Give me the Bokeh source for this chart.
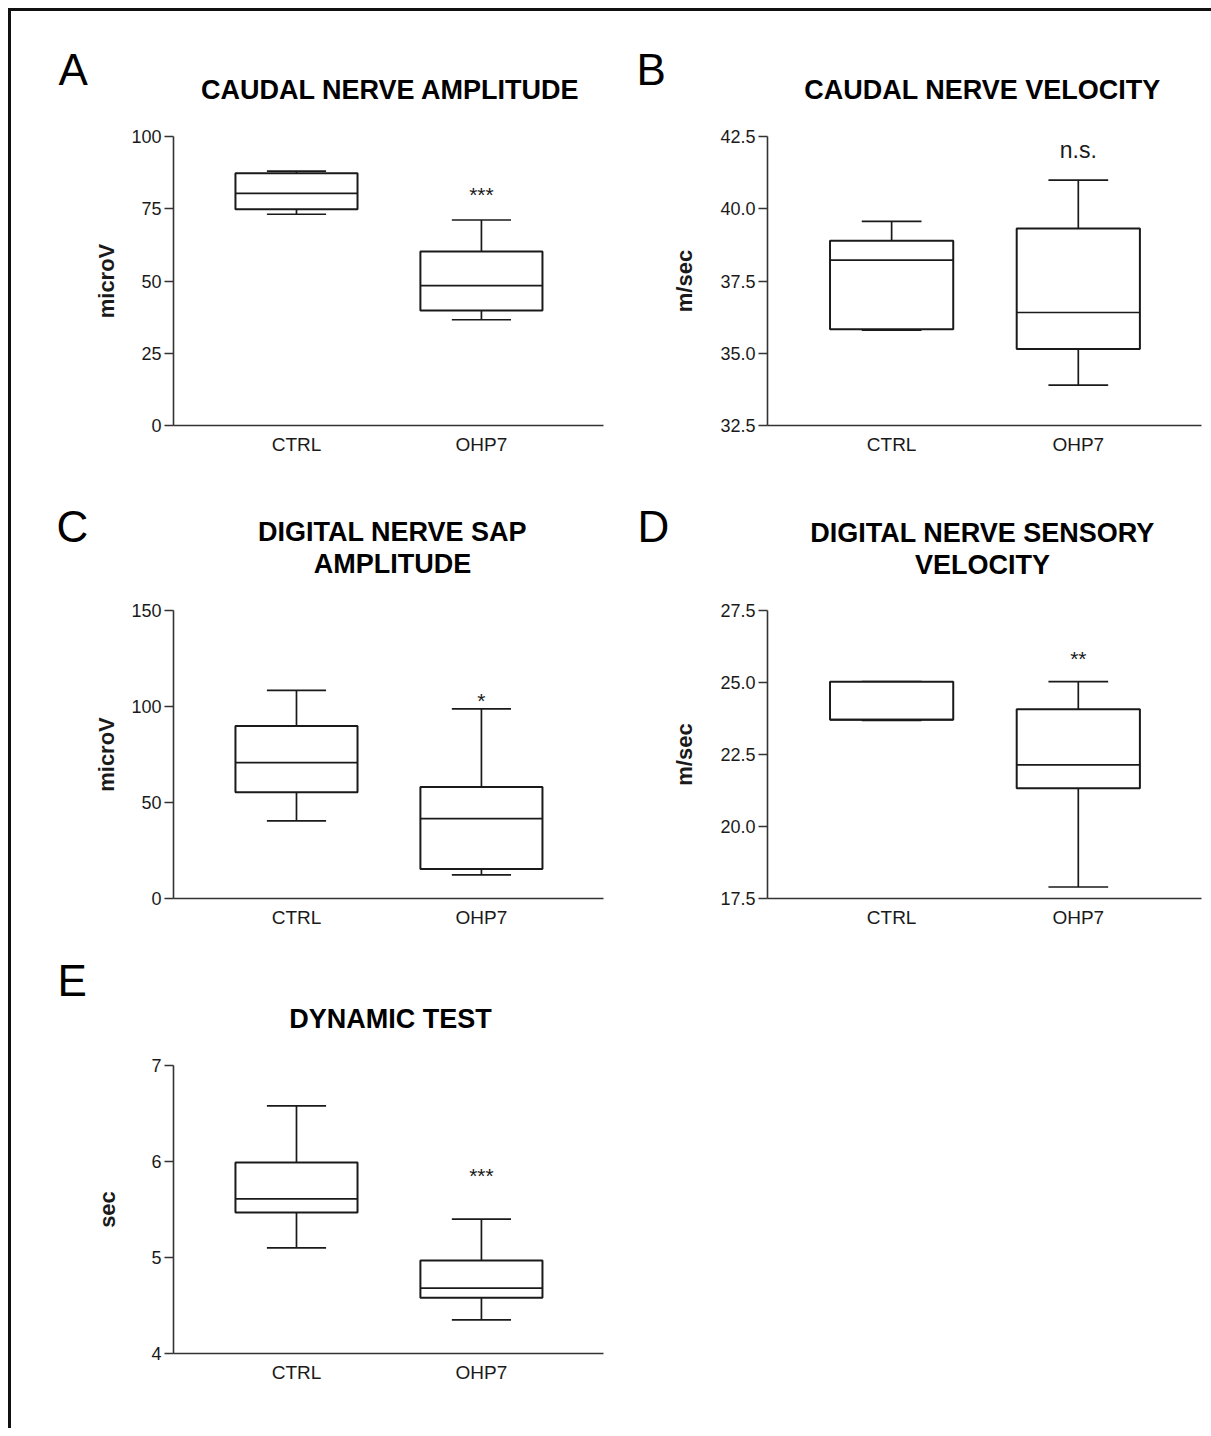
from bokeh.plotting import figure
from bokeh.models import Range1d, FixedTicker, NumeralTickFormatter, Spacer
from bokeh.layouts import column, row
from bokeh.core.properties import value
from bokeh.embed import file_html
from bokeh.resources import INLINE

FONT = "Liberation Sans"
FONT_V = value(FONT)
INK = "#1a1a1a"

categories = ["CTRL", "OHP7"]

# Panel A: caudal nerve amplitude (microV)
a_low = [73.1, 36.6]
a_q1 = [74.8, 39.8]
a_med = [80.3, 48.4]
a_q3 = [87.3, 60.2]
a_high = [88.0, 71.1]
a_ticks = [0, 25, 50, 75, 100]

# Panel B: caudal nerve velocity (m/sec)
b_low = [35.8, 33.9]
b_q1 = [35.83, 35.15]
b_med = [38.22, 36.41]
b_q3 = [38.89, 39.32]
b_high = [39.56, 40.99]
b_ticks = [32.5, 35.0, 37.5, 40.0, 42.5]

# Panel C: digital nerve SAP amplitude (microV)
c_low = [40.4, 12.3]
c_q1 = [55.4, 15.4]
c_med = [70.8, 41.6]
c_q3 = [89.8, 58.1]
c_high = [108.4, 98.8]
c_ticks = [0, 50, 100, 150]

# Panel D: digital nerve sensory velocity (m/sec)
d_low = [23.68, 17.90]
d_q1 = [23.71, 21.33]
d_med = [23.71, 22.14]
d_q3 = [25.03, 24.07]
d_high = [25.03, 25.03]
d_ticks = [17.5, 20.0, 22.5, 25.0, 27.5]

# Panel E: dynamic test (sec)
e_low = [5.10, 4.35]
e_q1 = [5.47, 4.58]
e_med = [5.61, 4.68]
e_q3 = [5.99, 4.97]
e_high = [6.58, 5.40]
e_ticks = [4, 5, 6, 7]

# significance marks (shown above OHP7)
sig_text = ["***", "n.s.", "*", "**", "***"]
sig_y = [80.0, 42.05, 103.0, 25.85, 5.85]


def make_header(letter, title_lines, width, height, letter_x, letter_y,
                title_x, title_ys):
    h = figure(width=width, height=height, output_backend="svg",
               toolbar_location=None, x_axis_type=None, y_axis_type=None,
               x_range=Range1d(0, width), y_range=Range1d(height, 0),
               min_border=0, frame_align=False)
    h.outline_line_color = None
    h.xgrid.visible = False
    h.ygrid.visible = False
    h.text(x=[letter_x], y=[letter_y], text=[letter], text_font=FONT_V,
           text_font_size="44px", text_color="black",
           text_baseline="middle", text_align="left")
    h.text(x=[title_x] * len(title_lines), y=title_ys,
           text=title_lines, text_font=FONT_V, text_font_size="27px",
           text_font_style="bold", text_color="black",
           text_baseline="middle", text_align="center")
    return h


def make_panel(ylabel, ticks, fmt, low, q1, med, q3, high, sig, sigy, sig_size,
               width, height, bottom, right, label_standoff):
    left, top = 162, 12
    p = figure(width=width, height=height, output_backend="svg",
               toolbar_location=None,
               x_range=Range1d(0.335, 2.66),
               y_range=Range1d(ticks[0], ticks[-1]),
               min_border_left=left, min_border_right=right,
               min_border_top=top, min_border_bottom=bottom)
    p.outline_line_color = None
    p.xgrid.visible = False
    p.ygrid.visible = False

    xs = [i + 1 for i in range(len(categories))]
    box_w = 0.66
    cap_w = 0.32

    # whiskers
    p.segment(x0=xs, x1=xs, y0=q3, y1=high, line_color=INK, line_width=1.7)
    p.segment(x0=xs, x1=xs, y0=low, y1=q1, line_color=INK, line_width=1.7)
    p.segment(x0=[x - cap_w / 2 for x in xs], x1=[x + cap_w / 2 for x in xs],
              y0=high, y1=high, line_color=INK, line_width=1.7)
    p.segment(x0=[x - cap_w / 2 for x in xs], x1=[x + cap_w / 2 for x in xs],
              y0=low, y1=low, line_color=INK, line_width=1.7)
    # boxes
    p.vbar(x=xs, width=box_w, bottom=q1, top=q3, fill_color="white",
           line_color=INK, line_width=2)
    # medians
    p.segment(x0=[x - box_w / 2 for x in xs], x1=[x + box_w / 2 for x in xs],
              y0=med, y1=med, line_color=INK, line_width=1.7)

    # significance
    p.text(x=[xs[1]], y=[sigy], text=[sig], text_align="center",
           text_baseline="alphabetic", text_font=FONT_V,
           text_font_size=sig_size, text_color=INK)

    # y axis
    p.yaxis.ticker = FixedTicker(ticks=ticks)
    if fmt:
        p.yaxis.formatter = NumeralTickFormatter(format=fmt)
    p.yaxis.axis_label = ylabel
    p.yaxis.axis_label_text_font = FONT
    p.yaxis.axis_label_text_font_style = "bold"
    p.yaxis.axis_label_text_font_size = "22px"
    p.yaxis.axis_label_text_color = INK
    p.yaxis.axis_label_standoff = label_standoff
    p.yaxis.major_label_text_font = FONT
    p.yaxis.major_label_text_font_size = "18px"
    p.yaxis.major_label_text_color = INK
    p.yaxis.major_label_standoff = 3
    p.yaxis.major_tick_out = 9
    p.yaxis.major_tick_in = 0
    p.yaxis.minor_tick_line_color = None
    p.yaxis.axis_line_width = 1.6
    p.yaxis.axis_line_color = "#333333"
    p.yaxis.major_tick_line_width = 1.6
    p.yaxis.major_tick_line_color = "#333333"

    # x axis
    p.xaxis.ticker = FixedTicker(ticks=xs)
    p.xaxis.major_label_overrides = {x: c for x, c in zip(xs, categories)}
    p.xaxis.major_label_text_font = FONT
    p.xaxis.major_label_text_font_size = "19px"
    p.xaxis.major_label_text_color = INK
    p.xaxis.major_label_standoff = 2
    p.xaxis.major_tick_line_color = None
    p.xaxis.minor_tick_line_color = None
    p.xaxis.axis_line_width = 1.6
    p.xaxis.axis_line_color = "#333333"
    return p


LW, RW = 594, 606

hA = make_header("A", ["CAUDAL NERVE AMPLITUDE"], LW, 113, 47, 58, 379, [78])
pA = make_panel("microV", a_ticks, None, a_low, a_q1, a_med, a_q3, a_high,
                sig_text[0], sig_y[0], "21px", LW, 351, 50, 2, 9)
hB = make_header("B", ["CAUDAL NERVE VELOCITY"], RW, 113, 31, 58, 377, [78])
pB = make_panel("m/sec", b_ticks, "0.0", b_low, b_q1, b_med, b_q3, b_high,
                sig_text[1], sig_y[1], "23px", RW, 351, 50, 10, 20)

hC = make_header("C", ["DIGITAL NERVE SAP", "AMPLITUDE"], LW, 123, 45, 51,
                 381, [56, 88])
pC = make_panel("microV", c_ticks, None, c_low, c_q1, c_med, c_q3, c_high,
                sig_text[2], sig_y[2], "21px", LW, 347, 47, 2, 9)
hD = make_header("D", ["DIGITAL NERVE SENSORY", "VELOCITY"], RW, 123, 32, 51,
                 377, [57, 89])
pD = make_panel("m/sec", d_ticks, "0.0", d_low, d_q1, d_med, d_q3, d_high,
                sig_text[3], sig_y[3], "21px", RW, 347, 47, 10, 20)

hE = make_header("E", ["DYNAMIC TEST"], LW, 108, 46, 35, 379, [73])
pE = make_panel("sec", e_ticks, None, e_low, e_q1, e_med, e_q3, e_high,
                sig_text[4], sig_y[4], "21px", LW, 375, 75, 2, 28)

layout = column(
    row(column(hA, pA), column(hB, pB)),
    row(column(hC, pC), column(hD, pD)),
    row(column(hE, pE), Spacer(width=RW, height=483)),
    margin=(8, 0, 0, 8),
    styles={"border-left": "3px solid #111", "border-top": "3px solid #111"},
)

open("out.html", "w").write(file_html(layout, INLINE))
